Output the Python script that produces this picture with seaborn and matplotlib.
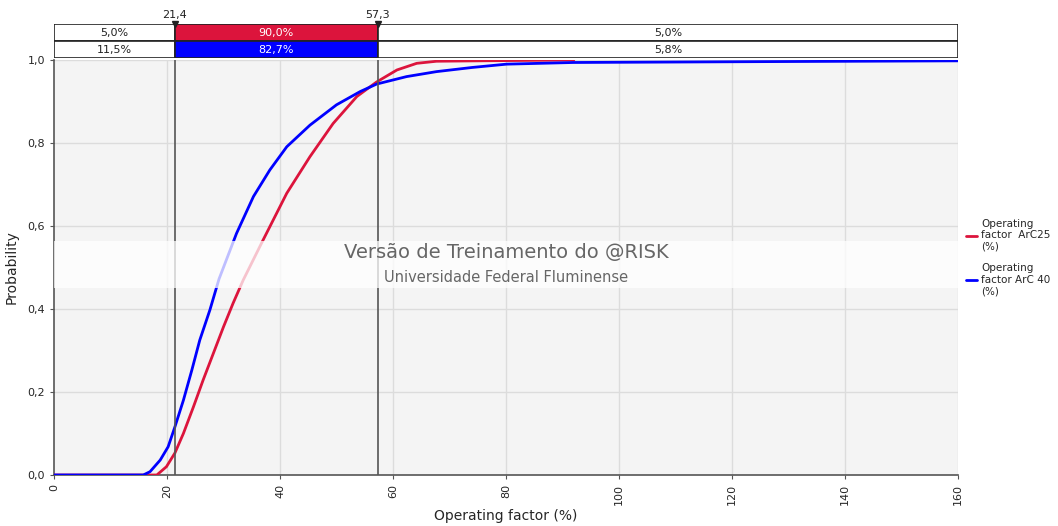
import numpy as np
import pandas as pd
import matplotlib
matplotlib.use('Agg')
import matplotlib.pyplot as plt
import seaborn as sns

# cumulative curves
x_arc25 = [0, 18.2, 19.9, 21.4, 22.9, 24.7, 26.4, 28.2, 30.0, 31.7, 33.5, 37.0, 41.2, 45.3,
           49.4, 53.6, 57.1, 60.7, 64.2, 67.7, 75.0, 92.0]
p_arc25 = [0, 0.0, 0.02, 0.053, 0.10, 0.165, 0.229, 0.293, 0.357, 0.414, 0.47, 0.566, 0.679, 0.767,
           0.847, 0.912, 0.947, 0.976, 0.992, 0.997, 0.998, 1.0]

x_arc40 = [0, 15.8, 17.0, 18.8, 20.2, 21.4, 22.9, 24.4, 25.8, 27.6, 29.2, 32.3, 35.3, 38.2,
           41.2, 45.3, 50.0, 54.2, 57.1, 62.4, 67.7, 74.0, 80.1, 91.9, 124.0, 160.0]
p_arc40 = [0, 0.0, 0.008, 0.036, 0.068, 0.116, 0.18, 0.253, 0.325, 0.398, 0.472, 0.582, 0.671, 0.735,
           0.791, 0.843, 0.892, 0.924, 0.942, 0.96, 0.972, 0.982, 0.990, 0.994, 0.996, 0.998]

series_names = ['Operating\nfactor  ArC25\n(%)', 'Operating\nfactor ArC 40\n(%)']
colors = ['#dc143c', '#0000ff']

# delimiters and the share of each band
marks = [21.4, 57.3]
mark_labels = ['21,4', '57,3']
band_arc25 = ['5,0%', '90,0%', '5,0%']
band_arc40 = ['11,5%', '82,7%', '5,8%']

x_min, x_max = 0, 160

df = pd.concat([
    pd.DataFrame({'x': x_arc25, 'p': p_arc25, 'serie': series_names[0]}),
    pd.DataFrame({'x': x_arc40, 'p': p_arc40, 'serie': series_names[1]}),
])

sns.set_style('white')
plt.rcParams['font.family'] = ['DejaVu Sans']
plt.rcParams['font.size'] = 8

fig = plt.figure(figsize=(10.58, 5.26), dpi=100)
ax = fig.add_axes([54 / 1058, 51 / 526, 904 / 1058, 415 / 526])
ax_top = fig.add_axes([54 / 1058, 468 / 526, 904 / 1058, 34 / 526], sharex=ax)

ax.set_facecolor('#f4f4f4')
for gx in range(20, 161, 20):
    ax.axvline(gx, color='#dcdcdc', lw=1, zorder=0)
for gy in [0.2, 0.4, 0.6, 0.8, 1.0]:
    ax.axhline(gy, color='#dcdcdc', lw=1, zorder=0)

sns.lineplot(data=df, x='x', y='p', hue='serie', palette=colors, ax=ax,
             lw=2, legend=True, zorder=3, sort=False)

for m in marks:
    ax.axvline(m, color='#555555', lw=1.2, zorder=4)

# watermark band
ax.axhspan(0.45, 0.563, color='white', alpha=0.75, zorder=5, lw=0)
ax.text(0.5, 0.535, 'Versão de Treinamento do @RISK', transform=ax.transAxes,
        ha='center', va='center', fontsize=14, color='#666666', zorder=6)
ax.text(0.5, 0.475, 'Universidade Federal Fluminense', transform=ax.transAxes,
        ha='center', va='center', fontsize=10.5, color='#666666', zorder=6)

ax.set_xlim(x_min, x_max)
ax.set_ylim(0, 1.0)
ax.set_xticks(range(0, 161, 20))
ax.set_xticklabels([str(v) for v in range(0, 161, 20)], rotation=90)
ax.set_yticks([0, 0.2, 0.4, 0.6, 0.8, 1.0])
ax.set_yticklabels(['0,0', '0,2', '0,4', '0,6', '0,8', '1,0'])
ax.tick_params(axis='both', length=3, color='#555555', labelsize=8, direction='out', bottom=True, left=True)
ax.set_xlabel('Operating factor (%)', fontsize=10, labelpad=3)
ax.set_ylabel('Probability', fontsize=10, labelpad=6)
for s in ['top', 'right']:
    ax.spines[s].set_visible(False)
for s in ['left', 'bottom']:
    ax.spines[s].set_color('#555555')
    ax.spines[s].set_linewidth(1.2)

leg = ax.legend(loc='upper left', bbox_to_anchor=(0.998, 0.64), frameon=False,
                handlelength=1.1, handletextpad=0.4, labelspacing=1.1, fontsize=7.5)
for line in leg.get_lines():
    line.set_linewidth(2)

# band table above the plot
edges = [x_min] + marks + [x_max]
rows = [(1, band_arc25, colors[0]), (0, band_arc40, colors[1])]
for yrow, labels, col in rows:
    for i, lab in enumerate(labels):
        mid = i == 1
        ax_top.barh(yrow, edges[i + 1] - edges[i], left=edges[i], height=1.0,
                    color=col if mid else 'white', edgecolor='#222222', lw=1.2)
        ax_top.text((edges[i] + edges[i + 1]) / 2, yrow, lab, ha='center', va='center',
                    fontsize=8, color='white' if mid else '#222222')
ax_top.set_ylim(-0.5, 1.5)
ax_top.axis('off')
for m, lab in zip(marks, mark_labels):
    ax_top.plot(m, 1.5, marker='v', color='#222222', ms=5, clip_on=False)
    ax_top.text(m, 1.72, lab, ha='center', va='bottom', fontsize=8, color='#222222')

fig.savefig('out.png', dpi=100)
